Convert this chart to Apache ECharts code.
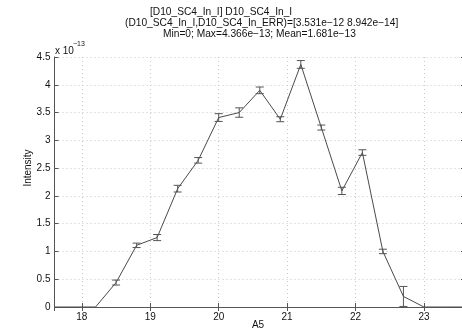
<!DOCTYPE html>
<html>
<head>
<meta charset="utf-8">
<script src="https://cdn.jsdelivr.net/npm/echarts@6/dist/echarts.min.js"></script>
<style>
html,body{margin:0;padding:0;background:#fff;}
#chart{width:462px;height:333px;}
</style>
</head>
<body>
<div id="chart"></div>
<script>
// A5 positions
var xValues = [17.6, 17.9, 18.2, 18.5, 18.8, 19.1, 19.4, 19.7, 20.0, 20.3, 20.6, 20.9, 21.2, 21.5, 21.8, 22.1, 22.4, 22.7, 23.0, 23.3, 23.6];
// Intensity (x 1e-13)
var intensity = [0, 0, 0, 0.44, 1.11, 1.25, 2.13, 2.64, 3.41, 3.50, 3.90, 3.38, 4.366, 3.23, 2.09, 2.78, 1.00, 0.19, 0, 0, 0];
// error (x 1e-13)
var errors = [0, 0, 0, 0.045, 0.04, 0.055, 0.06, 0.05, 0.07, 0.085, 0.06, 0.045, 0.07, 0.045, 0.065, 0.05, 0.04, 0.18, 0, 0, 0];
var yTicks = [0, 0.5, 1, 1.5, 2, 2.5, 3, 3.5, 4, 4.5];
var titleLines = [
  "[D10_SC4_In_I] D10_SC4_In_I",
  "(D10_SC4_In_I,D10_SC4_In_ERR)=[3.531e\u221212 8.942e\u221214]",
  "Min=0; Max=4.366e\u221213; Mean=1.681e\u221213"
];

var lineData = xValues.map(function(x, i){ return [x, intensity[i]]; });
var errData = xValues.map(function(x, i){ return [x, intensity[i] - errors[i], intensity[i] + errors[i]]; });

var axisCol = '#555';
var font = 'Liberation Sans, Arial, Helvetica, sans-serif';
var chart = echarts.init(document.getElementById('chart'), null, {renderer: 'canvas'});

function xFmt(v){ return Math.abs(v - Math.round(v)) < 1e-6 ? String(Math.round(v)) : ''; }

var option = {
  animation: false,
  backgroundColor: '#fff',
  textStyle: {fontFamily: font},
  graphic: [
    {type: 'text', left: 150, top: 7.5, style: {text: titleLines[0], font: '10.2px ' + font, fill: '#111'}},
    {type: 'text', left: 125, top: 18.5, style: {text: titleLines[1], font: '10.2px ' + font, fill: '#111'}},
    {type: 'text', left: 163, top: 29, style: {text: titleLines[2], font: '10.2px ' + font, fill: '#111'}},
    {type: 'text', left: 55, top: 46, style: {text: 'x 10', font: '10px ' + font, fill: '#111'}},
    {type: 'text', left: 73, top: 41, style: {text: '\u221213', font: '7px ' + font, fill: '#111'}},
    {type: 'text', x: 28, y: 168, rotation: Math.PI / 2,
      style: {text: 'Intensity', font: '10px ' + font, fill: '#111', align: 'center', verticalAlign: 'middle'}},
    {type: 'text', x: 258, y: 325,
      style: {text: 'A5', font: '10px ' + font, fill: '#111', align: 'center', verticalAlign: 'middle'}}
  ],
  grid: {left: 54.5, right: -3, top: 57, bottom: 26, containLabel: false, outerBoundsMode: 'none'},
  xAxis: [{
    type: 'value', min: 17.6, max: 23.6, splitNumber: 6,
    axisLine: {show: true, lineStyle: {color: axisCol, width: 1}},
    axisTick: {show: true, inside: true, length: 4, lineStyle: {color: axisCol}},
    axisLabel: {formatter: xFmt, fontSize: 10, color: '#111', margin: 5, fontFamily: font, showMinLabel: false, showMaxLabel: false},
    splitLine: {show: true, lineStyle: {color: '#c8c8c8', type: [1, 3], width: 1}}
  }, {
    type: 'value', min: 17.6, max: 23.6, splitNumber: 6, position: 'top',
    axisLine: {show: true, lineStyle: {color: axisCol, width: 1}},
    axisTick: {show: true, inside: true, length: 4, lineStyle: {color: axisCol}},
    axisLabel: {show: false}, splitLine: {show: false}
  }],
  yAxis: [{
    type: 'value', min: 0, max: 4.5, interval: 0.5,
    axisLine: {show: true, lineStyle: {color: axisCol, width: 1}},
    axisTick: {show: true, inside: true, length: 4, lineStyle: {color: axisCol}},
    axisLabel: {fontSize: 10, color: '#111', margin: 4, fontFamily: font,
      formatter: function(v){ return yTicks.indexOf(v) >= 0 ? String(v) : ''; }},
    splitLine: {show: true, lineStyle: {color: '#c8c8c8', type: [1, 3], width: 1}}
  }, {
    type: 'value', min: 0, max: 4.5, interval: 0.5, position: 'right',
    axisLine: {show: true, lineStyle: {color: axisCol, width: 1}},
    axisTick: {show: true, inside: true, length: 4, lineStyle: {color: axisCol}},
    axisLabel: {show: false}, splitLine: {show: false}
  }],
  series: [{
    type: 'line', data: lineData, xAxisIndex: 0, yAxisIndex: 0,
    showSymbol: false, symbol: 'none',
    lineStyle: {color: '#4a4a4a', width: 1}, z: 3
  }, {
    type: 'custom', data: errData, xAxisIndex: 0, yAxisIndex: 0, z: 4,
    renderItem: function(params, api){
      var x = api.value(0), lo = api.value(1), hi = api.value(2);
      if (hi - lo <= 0) return null;
      var pLo = api.coord([x, lo]), pHi = api.coord([x, hi]);
      var hw = 4;
      var st = {stroke: '#555', lineWidth: 1, fill: null};
      return {type: 'group', children: [
        {type: 'line', shape: {x1: pLo[0], y1: pLo[1], x2: pHi[0], y2: pHi[1]}, style: st},
        {type: 'line', shape: {x1: pLo[0] - hw, y1: pLo[1], x2: pLo[0] + hw, y2: pLo[1]}, style: st},
        {type: 'line', shape: {x1: pHi[0] - hw, y1: pHi[1], x2: pHi[0] + hw, y2: pHi[1]}, style: st}
      ]};
    }
  }]
};
chart.setOption(option);
</script>
</body>
</html>
